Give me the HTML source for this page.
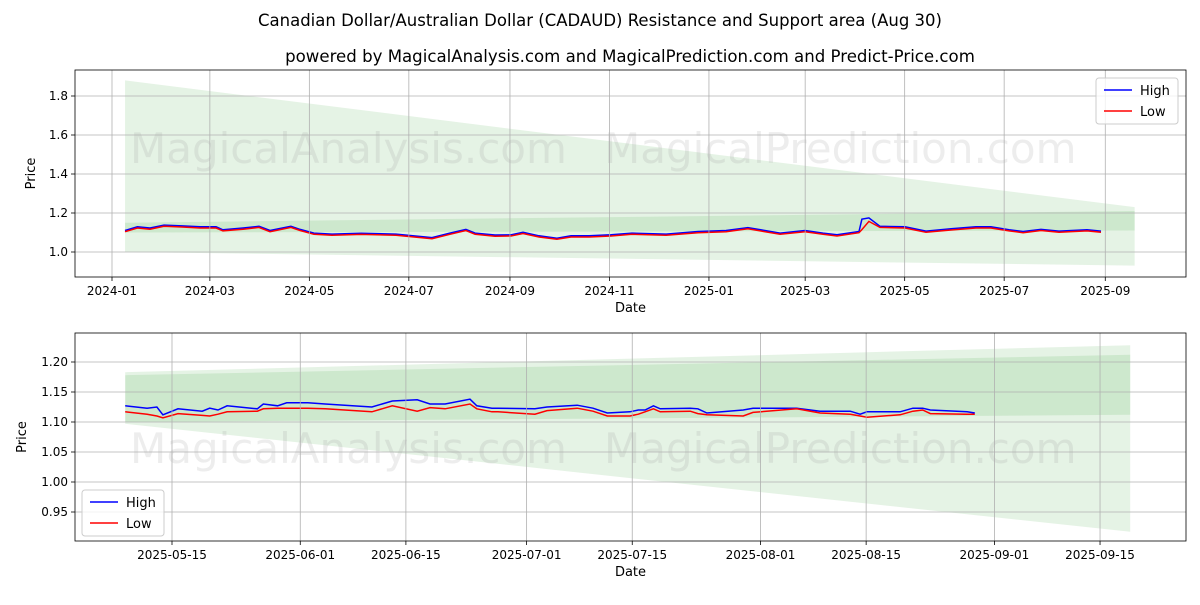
<!DOCTYPE html>
<html><head><meta charset="utf-8"><style>
body{margin:0;background:#fff;font-family:"Liberation Sans","DejaVu Sans",sans-serif}
svg text{font-family:"DejaVu Sans","Liberation Sans",sans-serif}
</style></head><body>
<svg id="chart" width="1200" height="600" viewBox="0 0 1200 600" xmlns="http://www.w3.org/2000/svg">
<rect width="1200" height="600" fill="#fff"/>
<text x="600" y="26" text-anchor="middle" font-size="16.5">Canadian Dollar/Australian Dollar (CADAUD) Resistance and Support area (Aug 30)</text>
<text x="630" y="62" text-anchor="middle" font-size="16.6">powered by MagicalAnalysis.com and MagicalPrediction.com and Predict-Price.com</text>
<g id="top"></g>
<g id="bot"></g>
</svg>
<script>
// ---- top chart data (days since 2024-01-01) ----
const topDays=[8,15.6,23.3,31.9,42.9,54,63.8,68,80.3,90.1,96.9,109.7,115.3,123.8,134.9,152.7,174.1,187.6,196.2,207.2,217,222.6,234.8,244.6,252,261.8,272.8,281.4,292.5,306,318.8,339.7,359.3,376.5,389.9,409.6,424.9,435.9,444.5,458,459.8,464.1,470.9,486.2,499.1,514.4,529.7,538.9,550,558.6,569.6,580.6,597.8,606.4];
const topHigh=[1.110,1.129,1.123,1.138,1.134,1.129,1.129,1.114,1.123,1.132,1.110,1.132,1.116,1.097,1.092,1.096,1.092,1.081,1.074,1.097,1.116,1.097,1.087,1.088,1.101,1.083,1.071,1.083,1.083,1.088,1.097,1.092,1.105,1.110,1.125,1.097,1.110,1.097,1.088,1.105,1.168,1.175,1.132,1.129,1.107,1.119,1.129,1.129,1.114,1.105,1.116,1.107,1.114,1.107];
const topLow=[1.104,1.123,1.117,1.132,1.128,1.123,1.123,1.108,1.117,1.126,1.104,1.126,1.110,1.091,1.086,1.090,1.086,1.075,1.068,1.091,1.110,1.091,1.081,1.082,1.095,1.077,1.065,1.077,1.077,1.082,1.091,1.086,1.099,1.104,1.119,1.091,1.104,1.091,1.082,1.099,1.115,1.157,1.126,1.123,1.101,1.113,1.123,1.123,1.108,1.099,1.110,1.101,1.108,1.101];
const topTickLabels=["2024-01","2024-03","2024-05","2024-07","2024-09","2024-11","2025-01","2025-03","2025-05","2025-07","2025-09"];
const topTickDays=[0,60,121,182,244,305,366,425,486,547,609];
const topYTicks=[1.0,1.2,1.4,1.6,1.8];
const topBandDays=[8,627];
const topLightUpper=[1.88,1.23], topLightLower=[1.0,0.93];
const topDarkUpper=[1.15,1.21], topDarkLower=[1.10,1.11];
// ---- bottom chart data (days since 2025-05-15) ----
const botDays=[-6.2,-3.3,-2,-1.2,0.8,4,5,6.1,7.3,11.3,12.1,14,15.2,18,20.3,26.5,29.2,32.5,34.2,36.2,39.5,40.4,42.4,43.2,48.1,49.7,53.7,55.8,57.7,60.7,61.8,62.7,63.8,64.7,68.7,69.7,70.9,75.7,77,82.8,85.9,89.9,91.2,92.1,96.5,98.2,99.5,100.5,105.4,106.4];
const botHigh=[1.127,1.123,1.125,1.112,1.122,1.118,1.123,1.120,1.127,1.122,1.130,1.127,1.132,1.132,1.130,1.125,1.135,1.137,1.130,1.130,1.138,1.127,1.123,1.123,1.122,1.125,1.128,1.123,1.115,1.117,1.120,1.120,1.127,1.122,1.123,1.122,1.115,1.120,1.123,1.123,1.118,1.118,1.113,1.117,1.117,1.123,1.123,1.120,1.117,1.115];
const botLow=[1.117,1.113,1.110,1.107,1.114,1.111,1.110,1.113,1.117,1.118,1.122,1.123,1.123,1.123,1.122,1.117,1.127,1.118,1.124,1.122,1.130,1.122,1.117,1.117,1.113,1.119,1.123,1.118,1.110,1.110,1.113,1.117,1.122,1.117,1.118,1.114,1.112,1.110,1.116,1.122,1.115,1.113,1.110,1.108,1.112,1.118,1.120,1.114,1.113,1.113];
const botTickLabels=["2025-05-15","2025-06-01","2025-06-15","2025-07-01","2025-07-15","2025-08-01","2025-08-15","2025-09-01","2025-09-15"];
const botTickDays=[0,17,31,47,61,78,92,109,123];
const botYTicks=[0.95,1.00,1.05,1.10,1.15,1.20];
const botBandDays=[-6.2,127];
const botLightUpper=[1.183,1.228], botLightLower=[1.097,0.917];
const botDarkUpper=[1.178,1.212], botDarkLower=[1.100,1.112];

const NS="http://www.w3.org/2000/svg";
function mk(parent,tag,attrs,text){const e=document.createElementNS(NS,tag);for(const k in attrs)e.setAttribute(k,attrs[k]);if(text!==undefined)e.textContent=text;parent.appendChild(e);return e;}

function panel(g,cfg){
  const {L,R,T,B,x,y}=cfg;
  const clipId=cfg.id+'clip';
  const defs=mk(g,'defs',{});const cp=mk(defs,'clipPath',{id:clipId});mk(cp,'rect',{x:L,y:T,width:R-L,height:B-T});
  const plot=mk(g,'g',{'clip-path':'url(#'+clipId+')'});
  const bd=cfg.bandDays;
  const light=mk(plot,'polygon',{points:`${x(bd[0])},${y(cfg.lu[0])} ${x(bd[1])},${y(cfg.lu[1])} ${x(bd[1])},${y(cfg.ll[1])} ${x(bd[0])},${y(cfg.ll[0])}`,fill:'#2ca02c','fill-opacity':0.12});
  
  
  const dark=mk(plot,'polygon',{points:`${x(bd[0])},${y(cfg.du[0])} ${x(bd[1])},${y(cfg.du[1])} ${x(bd[1])},${y(cfg.dl[1])} ${x(bd[0])},${y(cfg.dl[0])}`,fill:'#2ca02c','fill-opacity':0.13});
  
  
  cfg.wm.forEach(w=>{const t=mk(plot,'text',{x:w[0],y:w[1],'font-size':42,fill:'#888','fill-opacity':0.15},w[2]);
    
    });
  cfg.xt.forEach((d,i)=>{const xx=x(d);mk(g,'line',{x1:xx,x2:xx,y1:T,y2:B,stroke:'#b0b0b0','stroke-width':0.8});
    mk(g,'line',{x1:xx,x2:xx,y1:B,y2:B+4,stroke:'#000','stroke-width':0.8});
    const t=mk(g,'text',{x:xx,y:B+18,'text-anchor':'middle','font-size':12},cfg.xl[i]);
    
    });
  cfg.yt.forEach(v=>{const yy=y(v);mk(g,'line',{x1:L,x2:R,y1:yy,y2:yy,stroke:'#b0b0b0','stroke-width':0.8});
    mk(g,'line',{x1:L-4,x2:L,y1:yy,y2:yy,stroke:'#000','stroke-width':0.8});
    const t=mk(g,'text',{x:L-7,y:yy+4,'text-anchor':'end','font-size':12},v.toFixed(cfg.dec));
    
    });
  const hp=cfg.days.map((d,i)=>`${x(d).toFixed(1)},${y(cfg.hi[i]).toFixed(1)}`).join(' ');
  const lp=cfg.days.map((d,i)=>`${x(d).toFixed(1)},${y(cfg.lo[i]).toFixed(1)}`).join(' ');
  const h=mk(plot,'polyline',{points:hp,fill:'none',stroke:'#0000ff','stroke-width':1.5});
  
  
  const l=mk(plot,'polyline',{points:lp,fill:'none',stroke:'#ff0000','stroke-width':1.5});
  
  
  mk(g,'rect',{x:L,y:T,width:R-L,height:B-T,fill:'none',stroke:'#000','stroke-width':0.8});
  const xt=mk(g,'text',{x:(L+R)/2,y:B+35,'text-anchor':'middle','font-size':13},'Date');
  
  
  const yl=mk(g,'text',{x:0,y:0,'text-anchor':'middle','font-size':13,transform:`translate(${cfg.ylx},${(T+B)/2}) rotate(-90)`},'Price');
  
  
  const [lx,ly]=cfg.leg;
  const lg=mk(g,'g',{});
  
  
  mk(lg,'rect',{x:lx,y:ly,width:82,height:46,rx:3,fill:'#fff','fill-opacity':0.8,stroke:'#ccc'});
  mk(lg,'line',{x1:lx+8,x2:lx+36,y1:ly+12,y2:ly+12,stroke:'#0000ff','stroke-width':1.5});
  mk(lg,'text',{x:lx+44,y:ly+17,'font-size':13},'High');
  mk(lg,'line',{x1:lx+8,x2:lx+36,y1:ly+33,y2:ly+33,stroke:'#ff0000','stroke-width':1.5});
  mk(lg,'text',{x:lx+44,y:ly+38,'font-size':13},'Low');
}
panel(document.getElementById('top'),{id:'t',L:75,R:1186,T:70,B:277,x:d=>112+d*1.631,y:v=>252-(v-1.0)*195,
  bandDays:topBandDays,lu:topLightUpper,ll:topLightLower,du:topDarkUpper,dl:topDarkLower,
  wm:[[130,163,'MagicalAnalysis.com'],[604,163,'MagicalPrediction.com'],[130,313,'MagicalAnalysis.com'],[604,313,'MagicalPrediction.com']],
  xt:topTickDays,xl:topTickLabels,yt:topYTicks,dec:1,days:topDays,hi:topHigh,lo:topLow,ylx:35,leg:[1096,78]});
panel(document.getElementById('bot'),{id:'b',L:75,R:1186,T:333,B:541,x:d=>172+d*7.545,y:v=>362+(1.20-v)*600,
  bandDays:botBandDays,lu:botLightUpper,ll:botLightLower,du:botDarkUpper,dl:botDarkLower,
  wm:[[130,463,'MagicalAnalysis.com'],[604,463,'MagicalPrediction.com']],
  xt:botTickDays,xl:botTickLabels,yt:botYTicks,dec:2,days:botDays,hi:botHigh,lo:botLow,ylx:26,leg:[82,490]});
</script>
</body></html>
